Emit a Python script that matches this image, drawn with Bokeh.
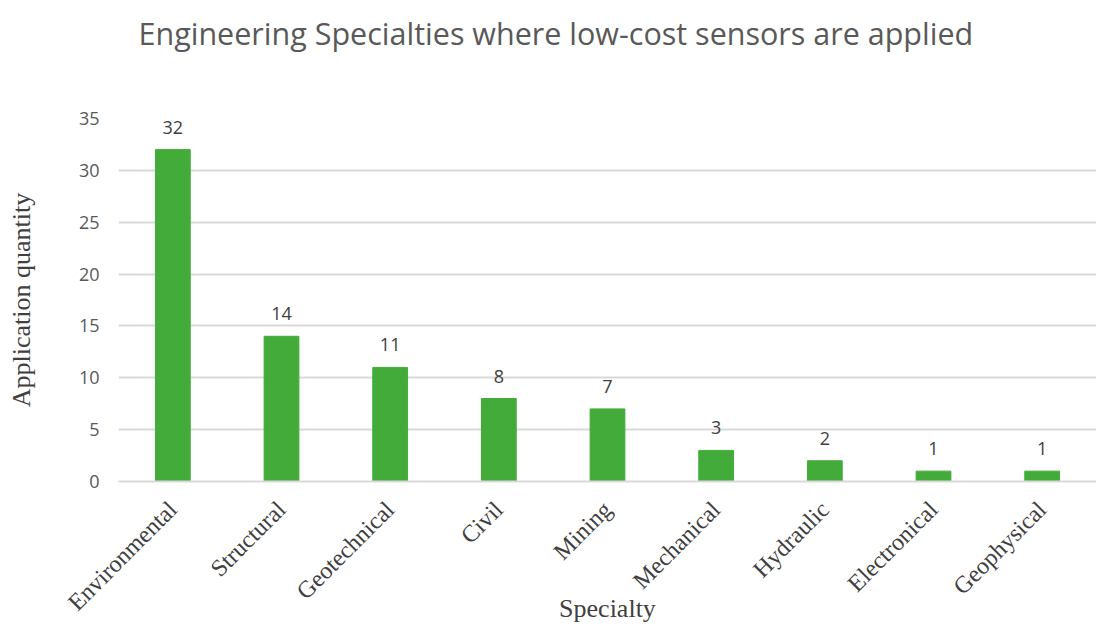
import math
from bokeh.plotting import figure
from bokeh.models import ColumnDataSource, Range1d, FactorRange, FixedTicker, Title
from bokeh.core.properties import value
from bokeh.embed import file_html
from bokeh.resources import INLINE

specialties = ["Environmental", "Structural", "Geotechnical", "Civil", "Mining",
               "Mechanical", "Hydraulic", "Electronical", "Geophysical"]
quantities = [32, 14, 11, 8, 7, 3, 2, 1, 1]
y_ticks = [0, 5, 10, 15, 20, 25, 30, 35]
title_text = "Engineering Specialties where low-cost sensors are applied"

src = ColumnDataSource(dict(cat=specialties, val=quantities,
                            lab=[str(v) for v in quantities]))

p = figure(frame_width=978, frame_height=363,
           x_range=FactorRange(*specialties, range_padding=0),
           y_range=Range1d(0, 35), output_backend="svg", toolbar_location=None,
           min_border_left=118, min_border_right=0, min_border_top=118,
           min_border_bottom=147)
p.title = None
p.outline_line_color = None
p.background_fill_color = "white"

# spacer panel (closest to the frame), then the real title above it
spacer = Title(text=" ", text_font_size="10px", standoff=43)
p.add_layout(spacer, "above")
main_title = Title(text=title_text, align="left", offset=20, vertical_align="top",
                   text_font="Open Sans", text_font_size="30.5px",
                   text_font_style="normal", text_color="#595959", standoff=14)
p.add_layout(main_title, "above")

p.vbar(x="cat", top="val", width=0.32, source=src, fill_color="#43AB3A",
       line_color="#43AB3A")
p.text(x="cat", y="val", text="lab", source=src, text_align="center",
       text_baseline="bottom", y_offset=-16, text_font=value("Open Sans"),
       text_font_size="18px", text_color="#404040")

# grid
p.xgrid.grid_line_color = None
p.ygrid.grid_line_color = "#D9D9D9"
p.ygrid.grid_line_width = 2
p.yaxis.ticker = FixedTicker(ticks=y_ticks)

# y axis
p.yaxis.axis_line_color = None
p.yaxis.major_tick_line_color = None
p.yaxis.minor_tick_line_color = None
p.yaxis.major_label_text_font = "Open Sans"
p.yaxis.major_label_text_font_size = "18px"
p.yaxis.major_label_text_color = "#595959"
p.yaxis.major_label_standoff = 13
p.yaxis.axis_label = "Application quantity"
p.yaxis.axis_label_text_font = "Liberation Serif"
p.yaxis.axis_label_text_font_style = "normal"
p.yaxis.axis_label_text_font_size = "26px"
p.yaxis.axis_label_text_color = "#404040"
p.yaxis.axis_label_standoff = 40

# x axis
p.xaxis.axis_line_color = "#D9D9D9"
p.xaxis.axis_line_width = 2
p.xaxis.major_tick_line_color = None
p.xaxis.minor_tick_line_color = None
p.xaxis.major_label_orientation = math.pi / 4
p.xaxis.major_label_text_font = "Liberation Serif"
p.xaxis.major_label_text_font_size = "24px"
p.xaxis.major_label_text_color = "#404040"
p.xaxis.major_label_standoff = 18
p.xaxis.axis_label = "Specialty"
p.xaxis.axis_label_text_font = "Liberation Serif"
p.xaxis.axis_label_text_font_style = "normal"
p.xaxis.axis_label_text_font_size = "26px"
p.xaxis.axis_label_text_color = "#404040"
p.xaxis.axis_label_standoff = -34

open("out.html", "w").write(file_html(p, INLINE))
